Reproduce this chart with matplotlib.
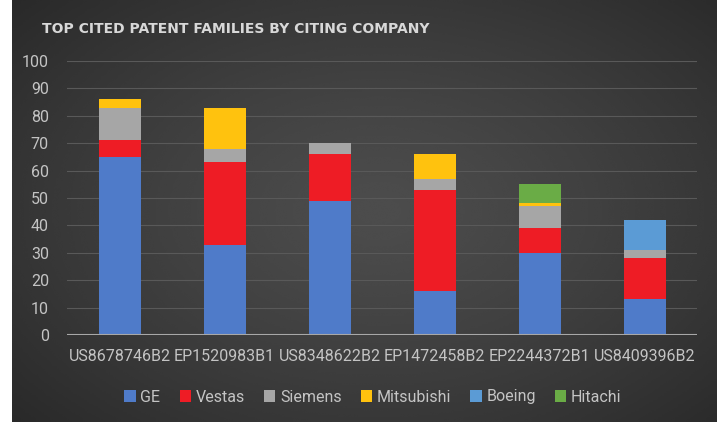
import numpy as np
import matplotlib
matplotlib.use("Agg")
import matplotlib.pyplot as plt
from matplotlib.patches import Patch

# data
patents = ["US8678746B2", "EP1520983B1", "US8348622B2",
           "EP1472458B2", "EP2244372B1", "US8409396B2"]
companies = ["GE", "Vestas", "Siemens", "Mitsubishi", "Boeing", "Hitachi"]
ge = [65, 33, 49, 16, 30, 13]
vestas = [6, 30, 17, 37, 9, 15]
siemens = [12, 5, 4, 4, 8, 3]
mitsubishi = [3, 15, 0, 9, 1, 0]
boeing = [0, 0, 0, 0, 0, 11]
hitachi = [0, 0, 0, 0, 7, 0]
series = [ge, vestas, siemens, mitsubishi, boeing, hitachi]
colors = ["#4f7bc9", "#ee1c25", "#a6a6a6", "#ffc20e", "#5b9bd5", "#6aac46"]

title = "TOP CITED PATENT FAMILIES BY CITING COMPANY"
text_col = "#c4c4c4"
font = ["Roboto", "DejaVu Sans"]

fig = plt.figure(figsize=(7.22, 4.22), dpi=100)
fig.patch.set_facecolor("white")

# dark panel with a soft radial glow in the middle
bg = fig.add_axes([12 / 722, 0, 705 / 722, 1])
yy, xx = np.mgrid[0:1:200j, 0:1:340j]
r = np.sqrt(((xx - 0.52) / 0.75) ** 2 + ((yy - 0.5) / 0.8) ** 2)
shade = 0.30 - 0.15 * np.clip(r, 0, 1) ** 1.3
bg.imshow(shade, cmap="gray", vmin=0, vmax=1, aspect="auto",
          extent=[0, 1, 0, 1], interpolation="bicubic")
bg.set_axis_off()

ax = fig.add_axes([67 / 722, 1 - 335 / 422, 630 / 722, 274 / 422])
ax.set_facecolor("none")

x = np.arange(len(patents))
bottom = np.zeros(len(patents))
for vals, col in zip(series, colors):
    ax.bar(x, vals, 0.4, bottom=bottom, color=col, zorder=3)
    bottom += np.array(vals)

ax.set_xlim(-0.5, len(patents) - 0.5)
ax.set_ylim(0, 100)
ax.set_yticks(range(0, 101, 10))
ax.set_xticks(x)
ax.set_xticklabels(patents)
ax.yaxis.grid(True, color="#595959", linewidth=0.8, zorder=0)
ax.axhline(0, color="#a8a8a8", linewidth=1.5, zorder=4)
for s in ax.spines.values():
    s.set_visible(False)
ax.tick_params(length=0, colors=text_col, labelsize=11.5, pad=10)
ax.tick_params(axis="y", pad=13)
for lbl in ax.get_xticklabels() + ax.get_yticklabels():
    lbl.set_family(font)

fig.text(42 / 722, 1 - 29 / 422, title, color="#d8d8d8", fontsize=10,
         fontweight="bold", va="center", ha="left")

handles = [Patch(facecolor=c, label=n) for n, c in zip(companies, colors)]
fig.legend(handles=handles, loc="center", bbox_to_anchor=(373 / 722, 1 - 397 / 422),
           ncol=6, frameon=False, handlelength=0.7, handleheight=0.7,
           handletextpad=0.3, columnspacing=1.2,
           prop={"family": font, "size": 11.5}, labelcolor=text_col)

fig.savefig("out.png", dpi=100, facecolor=fig.get_facecolor())
